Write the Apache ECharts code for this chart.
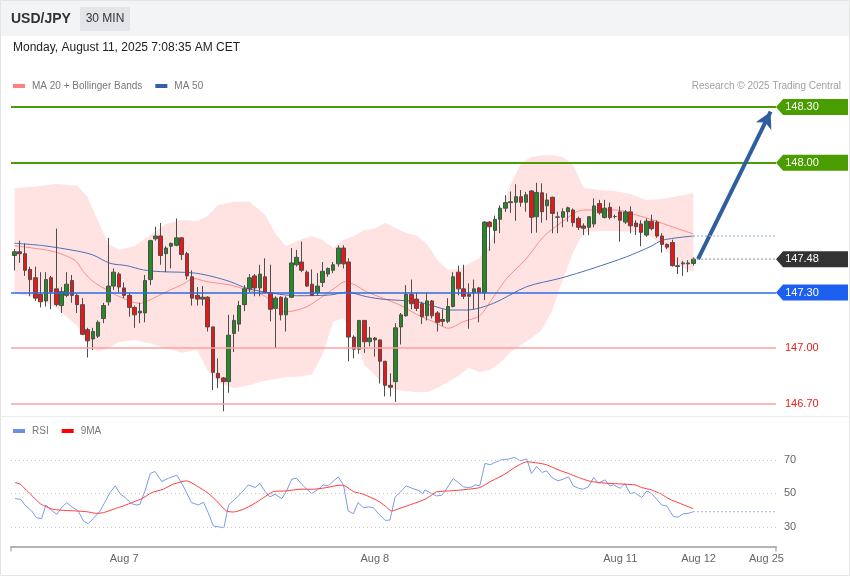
<!DOCTYPE html>
<html><head><meta charset="utf-8">
<script src="https://cdn.jsdelivr.net/npm/echarts@6/dist/echarts.min.js"></script>
<style>html,body{margin:0;padding:0;background:#fff}#c{width:850px;height:576px}</style>
</head><body><div id="c"></div>
<script>
// ---- candles (30 min), index 0..130 ----
const opens=[147.50,147.52,147.51,147.425,147.38,147.29,147.255,147.38,147.32,147.23,
147.285,147.365,147.285,147.235,147.10,147.05,147.065,147.16,147.25,147.335,
147.40,147.325,147.285,147.22,147.19,147.19,147.37,147.59,147.605,147.51,
147.55,147.555,147.595,147.51,147.385,147.285,147.265,147.275,147.115,146.865,
146.84,146.82,147.08,147.13,147.235,147.32,147.39,147.325,147.385,147.30,
147.215,147.275,147.18,147.275,147.45,147.465,147.41,147.345,147.30,147.355,
147.40,147.42,147.455,147.54,147.465,147.06,146.995,147.15,147.035,147.055,
147.045,146.93,146.80,146.82,147.115,147.175,147.29,147.265,147.24,147.175,
147.255,147.19,147.155,147.145,147.225,147.41,147.32,147.29,147.30,147.325,
147.30,147.68,147.635,147.695,147.755,147.785,147.787,147.817,147.787,147.848,
147.709,147.838,147.768,147.814,147.708,147.706,147.736,147.745,147.70,147.659,
147.652,147.67,147.78,147.705,147.76,147.71,147.735,147.68,147.735,147.675,
147.67,147.61,147.685,147.68,147.605,147.56,147.57,147.44,147.46,147.455,
147.457];
const closes=[147.52,147.51,147.42,147.37,147.27,147.25,147.37,147.305,147.235,147.305,
147.345,147.285,147.235,147.075,147.04,147.09,147.14,147.23,147.335,147.41,
147.33,147.285,147.22,147.18,147.20,147.365,147.58,147.605,147.50,147.54,
147.565,147.595,147.505,147.39,147.27,147.265,147.275,147.115,146.87,146.84,
146.82,147.07,147.15,147.23,147.32,147.38,147.325,147.40,147.30,147.21,
147.27,147.18,147.27,147.46,147.49,147.42,147.335,147.285,147.335,147.415,
147.43,147.45,147.54,147.455,147.06,146.995,147.15,147.035,147.055,147.045,
146.93,146.80,146.79,147.11,147.18,147.29,147.24,147.215,147.17,147.255,
147.175,147.14,147.145,147.225,147.385,147.32,147.28,147.28,147.32,147.30,
147.68,147.655,147.695,147.755,147.785,147.79,147.817,147.787,147.827,147.706,
147.84,147.736,147.799,147.727,147.706,147.736,147.757,147.677,147.652,147.647,
147.709,147.767,147.73,147.755,147.705,147.71,147.69,147.735,147.66,147.655,
147.625,147.685,147.645,147.605,147.56,147.545,147.445,147.445,147.455,147.46,
147.48];
const lows=[147.42,147.46,147.39,147.28,147.255,147.22,147.225,147.21,147.225,147.19,
147.275,147.245,147.19,147.07,146.95,146.99,147.055,147.135,147.23,147.315,
147.30,147.27,147.17,147.11,147.135,147.14,147.34,147.58,147.45,147.41,
147.43,147.55,147.475,147.37,147.23,147.23,147.23,147.09,146.775,146.785,
146.66,146.76,146.98,147.09,147.20,147.30,147.28,147.28,147.30,147.145,
147.00,147.15,147.09,147.27,147.44,147.41,147.33,147.285,147.285,147.33,
147.385,147.405,147.44,147.43,146.93,146.945,146.97,146.975,147.01,146.955,
146.81,146.74,146.74,146.71,147.02,147.17,147.21,147.20,147.13,147.15,
147.16,147.09,147.12,147.135,147.22,147.285,147.265,147.105,147.21,147.14,
147.26,147.525,147.565,147.62,147.735,147.73,147.687,147.763,147.736,147.62,
147.623,147.677,147.69,147.62,147.62,147.652,147.682,147.655,147.637,147.61,
147.61,147.652,147.72,147.70,147.695,147.70,147.575,147.67,147.62,147.61,
147.55,147.60,147.635,147.595,147.515,147.535,147.44,147.40,147.39,147.41,
147.445];
const highs=[147.535,147.58,147.565,147.44,147.44,147.41,147.41,147.39,147.645,147.33,
147.41,147.395,147.295,147.27,147.11,147.11,147.15,147.245,147.595,147.43,
147.41,147.355,147.30,147.23,147.245,147.395,147.585,147.655,147.675,147.55,
147.57,147.70,147.60,147.52,147.42,147.33,147.335,147.28,147.115,146.945,
146.845,147.18,147.18,147.255,147.34,147.40,147.40,147.45,147.485,147.45,
147.28,147.28,147.28,147.54,147.53,147.575,147.42,147.425,147.405,147.465,
147.435,147.465,147.555,147.555,147.485,147.07,147.15,147.15,147.115,147.06,
147.045,146.93,146.865,147.135,147.19,147.34,147.37,147.30,147.25,147.30,
147.26,147.20,147.21,147.27,147.41,147.445,147.45,147.35,147.37,147.33,
147.685,147.685,147.715,147.77,147.825,147.845,147.884,147.853,147.843,147.853,
147.892,147.889,147.835,147.817,147.736,147.754,147.763,147.754,147.709,147.673,
147.712,147.808,147.80,147.80,147.785,147.72,147.765,147.745,147.765,147.69,
147.69,147.70,147.72,147.69,147.62,147.565,147.585,147.49,147.47,147.475,
147.49];

// ---- indicators (candle index, value) ----
const ma20Idx=[0,3,7.1,10.3,11.9,13.2,15.1,18.3,20.8,24,25.9,29.1,32.6,34.2,36.8,41.3,44.5,47.6,49.6,51.5,53.4,56,58.5,61.7,63.3,65.2,67.4,70.6,73.8,77,80.2,83.1,85.9,89.1,91.1,94.3,97.8,101.3,104.5,108.9,115.3,119.1,122.3,126.2,130];
const ma20=[147.553,147.542,147.524,147.493,147.466,147.413,147.359,147.305,147.269,147.242,147.260,147.305,147.350,147.377,147.359,147.341,147.314,147.287,147.242,147.197,147.201,147.224,147.269,147.332,147.359,147.341,147.305,147.269,147.233,147.183,147.143,147.108,147.143,147.175,147.251,147.377,147.476,147.601,147.673,147.745,147.745,147.718,147.691,147.652,147.616];
const ma50Idx=[0,5.5,12,15,18.3,21.5,24.7,27.9,32.6,34.9,38,41.3,44.5,47.6,50.8,54,60.4,63.6,67.4,70.6,77,80.1,83.4,86.6,91.7,98.1,104.5,110.8,117.2,121.7,124.2,130];
const ma50=[147.566,147.553,147.524,147.503,147.458,147.445,147.422,147.413,147.409,147.404,147.386,147.359,147.323,147.305,147.291,147.283,147.287,147.302,147.278,147.264,147.251,147.229,147.206,147.206,147.242,147.332,147.377,147.431,147.493,147.547,147.583,147.605];
const bbIdx=[0,4,8,12,14,16,18,20,23,26,29,32,35,37,39,42,45,48,50,52,55,57,59,61,63,65,67,69,71,73,75,77,79,81,83,85,87,89,91,93,95,97,99,101,103,105,107,109,112,115,118,121,124,127,130];
const bbUpper=[147.862,147.872,147.886,147.877,147.815,147.686,147.562,147.530,147.551,147.610,
147.670,147.691,147.686,147.713,147.772,147.790,147.790,147.718,147.616,147.551,
147.589,147.605,147.583,147.540,147.583,147.605,147.637,147.645,147.675,147.648,
147.621,147.608,147.562,147.476,147.422,147.427,147.454,147.486,147.556,147.718,
147.880,147.998,148.031,148.041,148.041,148.031,147.988,147.864,147.853,147.847,
147.831,147.799,147.804,147.820,147.837];
const bbLower=[147.296,147.274,147.217,147.120,147.020,146.983,147.001,147.034,147.045,147.026,
147.001,146.975,146.991,146.878,146.818,146.784,146.802,146.824,146.834,146.845,
146.847,146.861,146.964,147.142,147.163,147.072,146.910,146.856,146.797,146.775,
146.770,146.762,146.764,146.786,146.818,146.851,146.894,146.872,146.883,146.921,
146.980,147.018,147.055,147.098,147.206,147.368,147.519,147.626,147.632,147.632,
147.626,147.621,147.556,147.449,147.411];
const rsiIdx=[0.1,1.2,2,3.3,4.2,5.2,6,7.1,8.1,9,10,11,12.2,13.2,14.1,15.1,16.4,18.3,19.3,20.2,21.2,22.4,23.4,24,25,26,26.9,28.2,29.5,31.1,32.3,33.9,35.2,36.2,37.1,38.1,39.4,40.1,41,42.2,43.5,44.8,46.1,47,48,48.9,49.9,51.2,52.1,53.1,54,55,56,56.9,58.2,59.1,60.1,61.1,62,63,63.9,64.9,65.8,66.8,67.8,68.7,69.7,71,71.9,72.9,73.8,75,76.1,77.3,78.2,78.6,79.9,80.8,81.8,82.4,83.1,84,85,86,86.9,87.6,88.2,89.1,90.1,91.1,92.3,93.3,94.6,95.8,96.8,98.1,99,100,101,101.9,102.9,104.1,105.1,106.1,107,108,108.9,109.9,110.9,111.8,113.1,114,114.7,116,116.9,117.9,118.8,120.1,121.1,122,123,123.9,124.9,126.2,127.1,128.1,129,130];
const rsi=[46.8,46.4,43,39.4,35.4,34.8,43,39.8,37.4,41.4,44.4,41.8,39.4,33.4,31.8,35,39.4,50.4,54.4,49.8,47.4,43.8,43,43.4,51.4,61.8,63,57,59,60.8,54.4,44.4,43,44.6,38.4,30.4,29.8,29.4,43,46.4,50.4,55,53.4,55.8,51,47.8,49.4,46.8,51.4,58.4,59,55.4,52.4,49.8,52.4,55,54.4,57.4,59.8,54.8,39.4,37.8,44.4,41.4,41.8,41.4,37.8,33.8,34,47.8,50.4,54.4,53,51.8,49.8,52,49.8,48.4,48.8,51,54.4,58.8,56.4,53.8,53.4,53.8,55,54.4,67.8,67,68.8,70,70.4,71.4,69.4,70.4,61.8,66,62.4,63.4,59.4,57.4,58.4,59.8,54.4,53,52.4,53.8,59.4,56,58,54.4,55,53,55.8,49.8,50.4,47.4,51.4,49.8,46.4,43,42.4,36,35.8,37.8,38,39];
const rsiMaIdx=[0.1,1.1,2.3,3.6,4.9,6.2,7.4,9.4,11.9,13.8,15.7,17,18.9,20.8,22.8,24.4,26.3,28.5,30.4,33,34.9,37.1,38.7,40.6,41.9,43.8,45.7,47.7,49.6,52.1,54.7,57.2,59.8,62.3,63.3,64.9,66.8,69.4,71,72.2,73.8,76.4,78.6,79.9,80.8,83.1,85,86.9,89.1,91.4,93.9,95.8,98.1,100.3,101.9,104.1,106.1,108,109.9,111.8,114.4,116.9,118.8,120.1,122,123.9,125.5,127.1,129,130];
const rsiMa=[56.4,55.4,51.8,47.8,43.8,41.8,40.4,39.8,39.4,39,38,38.4,40.4,42.4,44.8,46.8,50.4,52.4,55.4,57.4,54.4,50,45.4,39.4,38.8,40.4,43.4,47.4,51,51.4,52.4,52.4,53.4,54.8,54.4,51,49.4,45.8,42.4,39.4,41,43.8,46.4,49,50.8,51.4,51.8,52.4,53.4,57.4,61.4,65.4,68.8,68,67,64,61.8,59.4,57.4,56.4,55.8,55.4,55,53.4,52,49.4,46.4,44.4,42,40.8];

// ---- levels, ticks and labels ----
const levelValues=[148.30,148.00,147.30,147.00,146.70];
const taggedLevels=[148.30,148.00,147.30];
const rsiLevels=[30,50,70];
const dayPos=[21,69,116,131,144];
const dayLabels=['Aug 7','Aug 8','Aug 11','Aug 12','Aug 25'];
const targetPrice=148.30;

// ---- layout / style ----
const XMIN=-0.67, XMAX=145.83;
const FONT='Arial, "Liberation Sans", Helvetica, sans-serif';
const levelColors=['#4c9c08','#4c9c08','#2d6be2','#ffa0a0','#ffa0a0'];
const levelWidths=[2,2,1.5,1.5,1.5];
const tagColors=['#4a9d00','#4a9d00','#1c60f0'];
const tagPath='path://M0,8 L7,0 L72,0 L72,16 L7,16 Z';

const last=closes.length-1;
const lastClose=closes[last];
const pair=(xs,ys)=>xs.map((x,i)=>[x,ys[i]]);
const candleData=opens.map((o,i)=>[i,o,closes[i],lows[i],highs[i]]);

const chart=echarts.init(document.getElementById('c'),null,{renderer:'canvas'});
const option={
  animation:false,
  textStyle:{fontFamily:FONT},
  graphic:[
    {type:'rect',shape:{x:0,y:0,width:850,height:36},style:{fill:'#f3f4f6'},silent:true,z:-10},
    {type:'rect',shape:{x:0.5,y:0.5,width:849,height:575},style:{fill:'none',stroke:'#e4e4e4',lineWidth:1},silent:true,z:-9},
    {type:'line',shape:{x1:0,y1:416.5,x2:850,y2:416.5},style:{stroke:'#ececec',lineWidth:1},silent:true},
    {type:'text',x:11,y:19,style:{text:'USD/JPY',font:'bold 14px '+FONT,fill:'#333',verticalAlign:'middle'},silent:true},
    {type:'rect',shape:{x:80,y:7,width:50,height:24},style:{fill:'#e3e5e8'},silent:true},
    {type:'text',x:105,y:19,style:{text:'30 MIN',font:'12px '+FONT,fill:'#333',align:'center',verticalAlign:'middle'},silent:true},
    {type:'text',x:13,y:48,style:{text:'Monday, August 11, 2025 7:08:35 AM CET',font:'12px '+FONT,fill:'#222',verticalAlign:'middle'},silent:true},
    {type:'text',x:841,y:86,style:{text:'Research \u00a9 2025 Trading Central',font:'10px '+FONT,fill:'#a0a0a0',align:'right',verticalAlign:'middle'},silent:true}
  ],
  legend:[
    {left:13,top:81,padding:0,itemWidth:12,itemHeight:4,itemGap:13,icon:'rect',selectedMode:false,
     textStyle:{color:'#777',fontSize:10,fontFamily:FONT,padding:[0,0,0,2]},
     data:[{name:'MA 20 + Bollinger Bands',itemStyle:{color:'#ff8080'}},{name:'MA 50',itemStyle:{color:'#2f5fa5'}}]},
    {left:13,top:426,padding:0,itemWidth:12,itemHeight:4,itemGap:13,icon:'rect',selectedMode:false,
     textStyle:{color:'#777',fontSize:10,fontFamily:FONT,padding:[0,0,0,2]},
     data:[{name:'RSI',itemStyle:{color:'#6a8fe6'}},{name:'9MA',itemStyle:{color:'#ff0000'}}]}
  ],
  grid:[
    {left:11,right:74,top:70,height:345},
    {left:11,right:74,top:443,height:100.5}
  ],
  xAxis:[
    {gridIndex:0,type:'value',min:XMIN,max:XMAX,show:false},
    {gridIndex:1,type:'value',min:XMIN,max:XMAX,offset:3,
     axisLine:{show:true,lineStyle:{color:'#b4b4b4',width:2}},
     axisTick:{show:true,customValues:[XMIN,XMAX],length:5,lineStyle:{color:'#b4b4b4',width:1.5}},
     axisLabel:{customValues:dayPos,margin:7,color:'#666',fontSize:11,fontFamily:FONT,
       formatter:(v)=>{const k=dayPos.indexOf(v);return k>=0?dayLabels[k]:'';}},
     splitLine:{show:false}}
  ],
  yAxis:[
    {gridIndex:0,type:'value',min:146.64,max:148.50,show:false,splitLine:{show:false}},
    {gridIndex:1,type:'value',min:20,max:80,position:'right',
     axisLine:{show:false},axisTick:{show:false},splitLine:{show:false},
     axisLabel:{customValues:rsiLevels,margin:8,color:'#666',fontSize:11,fontFamily:FONT}}
  ],
  series:[
    {type:'custom',name:'bb',xAxisIndex:0,yAxisIndex:0,data:[[bbIdx[0],bbUpper[0]]],z:1,silent:true,
     renderItem:(params,api)=>{
       const up=bbIdx.map((x,i)=>api.coord([x,bbUpper[i]]));
       const lo=bbIdx.map((x,i)=>api.coord([x,bbLower[i]])).reverse();
       return {type:'polygon',shape:{points:up.concat(lo)},style:{fill:'#ffe3e3'}};
     }},
    {type:'line',name:'MA 20 + Bollinger Bands',xAxisIndex:0,yAxisIndex:0,data:pair(ma20Idx,ma20),symbol:'none',smooth:0.3,
     lineStyle:{color:'#ff8a8a',width:1},itemStyle:{color:'#ff8080'},z:3,silent:true},
    {type:'line',name:'MA 50',xAxisIndex:0,yAxisIndex:0,data:pair(ma50Idx,ma50),symbol:'none',smooth:0.3,
     lineStyle:{color:'#4a70b5',width:1},itemStyle:{color:'#2f5fa5'},z:3,silent:true,
     markLine:{silent:true,symbol:'none',animation:false,
       data:levelValues.map((v,k)=>({yAxis:v,lineStyle:{color:levelColors[k],width:levelWidths[k],type:'solid'},
         label:{show:k>=3,position:'end',distance:9,formatter:v.toFixed(2),color:'#e8201a',fontSize:11,fontFamily:FONT}}))}},
    {type:'candlestick',name:'USD/JPY',xAxisIndex:0,yAxisIndex:0,data:candleData,
     encode:{x:0,y:[1,2,3,4]},barWidth:4,z:4,silent:true,
     itemStyle:{color:'#238b23',color0:'#ee1515',borderColor:'#4d4d4d',borderColor0:'#4d4d4d',borderColorDoji:'#4d4d4d',borderWidth:1},
     markPoint:{silent:true,animation:false,symbol:tagPath,symbolSize:[72,16],symbolOffset:[36,0],symbolKeepAspect:false,
       label:{show:true,formatter:'{b}',color:'#fff',fontSize:11,fontFamily:FONT,offset:[-10,0]},
       data:taggedLevels.map((v,k)=>({name:v.toFixed(2),coord:[XMAX,v],itemStyle:{color:tagColors[k]}}))
         .concat([{name:lastClose.toFixed(2),coord:[XMAX,lastClose],itemStyle:{color:'#333333'}}])}},
    {type:'line',name:'lastExt',xAxisIndex:0,yAxisIndex:0,data:[[last,lastClose],[XMAX,lastClose]],symbol:'none',
     lineStyle:{color:'#8a8a8a',width:1.3,type:[1.5,2.5]},z:5,silent:true,
     markLine:{silent:true,animation:false,symbol:['none','arrow'],symbolSize:[13,16],
       lineStyle:{color:'#2f5e9e',width:4,type:'solid'},label:{show:false},
       data:[[{coord:[130.9,lastClose]},{coord:[144.8,targetPrice-0.025]}]]}},
    {type:'line',name:'ma50Ext',xAxisIndex:0,yAxisIndex:0,data:[[last,ma50[ma50.length-1]],[XMAX,ma50[ma50.length-1]]],symbol:'none',
     lineStyle:{color:'#9db3db',width:1.3,type:[1.5,2.5]},z:5,silent:true},
    {type:'line',name:'RSI',xAxisIndex:1,yAxisIndex:1,data:pair(rsiIdx,rsi),symbol:'none',
     lineStyle:{color:'#7a9be8',width:1},itemStyle:{color:'#6a8fe6'},z:3,silent:true,
     markLine:{silent:true,symbol:'none',animation:false,label:{show:false},
       lineStyle:{color:'#c8c8c8',width:1,type:[1,3]},data:rsiLevels.map(v=>({yAxis:v}))}},
    {type:'line',name:'9MA',xAxisIndex:1,yAxisIndex:1,data:pair(rsiMaIdx,rsiMa),symbol:'none',smooth:0.2,
     lineStyle:{color:'#ff3b3b',width:1},itemStyle:{color:'#ff0000'},z:3,silent:true},
    {type:'line',name:'rsiExt',xAxisIndex:1,yAxisIndex:1,data:[[last,rsi[rsi.length-1]],[XMAX,rsi[rsi.length-1]]],symbol:'none',
     lineStyle:{color:'#9fb3ee',width:1.2,type:[1.5,2.5]},z:3,silent:true}
  ]
};
chart.setOption(option);
</script>
</body></html>
